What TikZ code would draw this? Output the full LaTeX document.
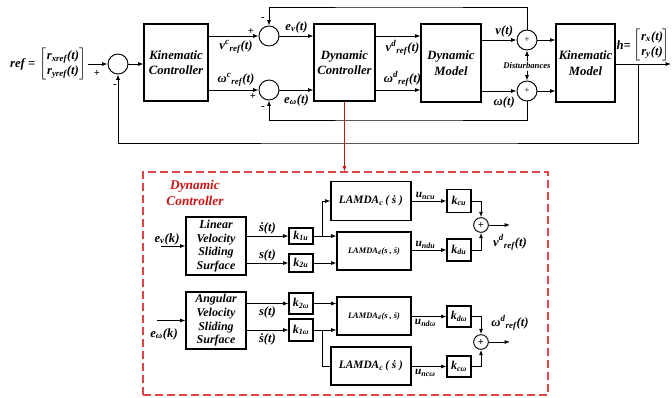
\documentclass[tikz,border=0pt]{standalone}
\usepackage{fontspec}
\setmainfont{Liberation Serif}
\usepackage{tikz}
\usetikzlibrary{arrows.meta, positioning}
\definecolor{dcred}{RGB}{204,20,20}
\definecolor{dashred}{RGB}{222,70,70}
\tikzset{
  blockbox/.style={
    rectangle, draw=black, line width=0.8pt,
    align=center, inner sep=1pt,
    font=\fontsize{9.5}{11.5}\selectfont\bfseries\itshape,
  },
  surfbox/.style={
    blockbox, minimum width=45pt, inner sep=0pt,
    font=\fontsize{9}{10.3}\selectfont\bfseries\itshape,
  },
  gainbox/.style={
    rectangle, draw=black, line width=0.8pt,
    minimum width=18pt, inner sep=1pt,
    font=\fontsize{9}{10}\selectfont\bfseries\itshape,
  },
  lamdac/.style={blockbox, minimum width=60pt, font=\fontsize{8.5}{10}\selectfont\bfseries\itshape},
  lamdad/.style={blockbox, minimum width=55.5pt, minimum height=28.5pt, font=\fontsize{6.3}{7}\selectfont\bfseries\itshape},
  sumnode/.style={circle, draw=black, line width=0.7pt, inner sep=0pt, minimum size=15pt},
  smallsum/.style={sumnode, minimum size=11pt, font=\fontsize{8}{8}\selectfont\bfseries},
  arrow/.style={-{Latex[length=4pt,width=3pt]}, line width=0.7pt},
  wire/.style={line width=0.7pt},
  lbl/.style={font=\fontsize{9.5}{11}\selectfont\bfseries\itshape, inner sep=1pt},
  ulbl/.style={lbl, font=\fontsize{8.5}{10}\selectfont\bfseries\itshape},
  sign/.style={font=\fontsize{8}{9}\selectfont\bfseries, inner sep=0pt},
  redarrow/.style={-{Latex[length=4pt,width=3pt]}, line width=0.7pt, draw=dcred},
  dashbox/.style={rectangle, draw=dashred, dash pattern=on 6pt off 3pt, line width=0.8pt},
}

\begin{document}
\begin{tikzpicture}[x=0.75pt, y=-0.75pt]
  \useasboundingbox (0,0) rectangle (672,397);

  % Outer loop: reference -> Kinematic Controller
  \node[lbl] (refvec) at (63,64) {$\left[\begin{tabular}{@{}c@{}}r\textsubscript{xref}(t)\\ r\textsubscript{yref}(t)\end{tabular}\right]$};
  \node[lbl, left=1pt of refvec] (reflbl) {ref =};
  \node[sumnode] (s1) at (118,64) {};
  \node[sign] (s1p) at (97,73) {+};
  \node[sign] (s1m) at (115,86) {-};
  \node[blockbox, minimum width=48pt, minimum height=57.75pt] (kc) at (176,62.5) {Kinematic\\Controller};

  % Velocity error sums
  \node[sumnode] (sv) at (269,36) {};
  \node[sumnode] (sw) at (269,90) {};
  \node[sign] (svp) at (251,31) {+};
  \node[sign] (svm) at (263,19) {-};
  \node[sign] (swp) at (253,96) {+};
  \node[sign] (swm) at (263,108) {-};

  % Dynamic Controller -> Dynamic Model -> Kinematic Model
  \node[blockbox, minimum width=45.75pt, minimum height=57.75pt] (dc) at (344.5,62.5) {Dynamic\\Controller};
  \node[blockbox, minimum width=45pt, minimum height=58.5pt] (dm) at (451,63) {Dynamic\\Model};
  \node[sumnode, font=\fontsize{7}{8}\selectfont] (dv) at (527,40) {+};
  \node[sumnode, font=\fontsize{7}{8}\selectfont] (dw) at (527,91) {+};
  \node[lbl, font=\fontsize{6.5}{7}\selectfont\bfseries\itshape] (dist) at (527,66) {Disturbances};
  \node[blockbox, minimum width=44.25pt, minimum height=58.5pt] (km) at (585.5,63) {Kinematic\\Model};
  \node[lbl] (hvec) at (652,45) {$\left[\begin{tabular}{@{}c@{}}r\textsubscript{x}(t)\\ r\textsubscript{y}(t)\end{tabular}\right]$};
  \node[lbl, left=0pt of hvec] (hlbl) {h=};

  \coordinate (hout) at (638,64);
  \coordinate (hend) at (671,64);
  \coordinate (fbtop) at (400,7);
  \coordinate (fbbot) at (400,120);
  \coordinate (fbout) at (400,143);

  % Top arrows
  \draw[arrow] (refvec.east) -- (s1.west);
  \draw[arrow] (s1.east) -- (kc.west |- s1);
  \draw[arrow] (kc.east |- sv) -- node[lbl, below=2pt, pos=0.55] {v\textsuperscript{c}\textsubscript{ref}(t)} (sv.west);
  \draw[arrow] (kc.east |- sw) -- node[lbl, above=1pt, pos=0.55] {ω\textsuperscript{c}\textsubscript{ref}(t)} (sw.west);
  \draw[arrow] (sv.east) -- node[lbl, above=1pt] {e\textsubscript{v}(t)} (dc.west |- sv);
  \draw[arrow] (sw.east) -- node[lbl, below=2pt] {e\textsubscript{ω}(t)} (dc.west |- sw);
  \draw[arrow] (dc.east |- sv) -- node[lbl, below=2pt, pos=0.6] {v\textsuperscript{d}\textsubscript{ref}(t)} (dm.west |- sv);
  \draw[arrow] (dc.east |- sw) -- node[lbl, above=1pt, pos=0.6] {ω\textsuperscript{d}\textsubscript{ref}(t)} (dm.west |- sw);
  \draw[arrow] (dm.east |- dv) -- node[lbl, above=1pt, pos=0.65] {v(t)} (dv.west);
  \draw[arrow] (dm.east |- dw) -- node[lbl, below=3pt, pos=0.65] {ω(t)} (dw.west);
  \draw[arrow] (dist.north) -- (dv.south);
  \draw[arrow] (dist.south) -- (dw.north);
  \draw[arrow] (dv.east) -- (km.west |- dv);
  \draw[arrow] (dw.east) -- (km.west |- dw);
  \draw[arrow] (km.east |- hout) -- (hend);

  % Feedback paths
  \draw[arrow] (dv.north) |- (fbtop) -| (sv.north);
  \draw[arrow] (dw.south) |- (fbbot) -| (sw.south);
  \draw[arrow] (hout) |- (fbout) -| (s1.south);

  % Dynamic Controller detail
  \node[dashbox, minimum width=303.75pt, minimum height=167.25pt] (dbox) at (345.5,283.5) {};
  \draw[redarrow] (dc.south) -- (dc.south |- dbox.north);
  \node[lbl, text=dcred, align=center, font=\fontsize{10}{12.5}\selectfont\bfseries\itshape] (dctitle) at (195,193) {Dynamic\\Controller};

  % Linear velocity branch
  \node[surfbox, minimum height=43.5pt] (lvs) at (216,246) {Linear\\Velocity\\Sliding\\Surface};
  \coordinate (evin) at (161,246);
  \node[lbl] (evlbl) at (167,239) {e\textsubscript{v}(k)};
  \node[gainbox, minimum height=12pt] (k1u) at (301,236) {k\textsubscript{1u}};
  \node[gainbox, minimum height=13.5pt] (k2u) at (301,263) {k\textsubscript{2u}};
  \coordinate (b1) at (322,236);
  \node[lamdac, minimum height=29.25pt] (lcu) at (371,201) {LAMDA\textsubscript{c}\,( ṡ )};
  \node[lamdad] (ldu) at (374,251) {LAMDA\textsubscript{d}(s , ṡ)};
  \node[gainbox, minimum height=17.25pt] (kcu) at (459,201) {k\textsubscript{cu}};
  \node[gainbox, minimum height=16.5pt] (kdu) at (459,250) {k\textsubscript{du}};
  \node[smallsum] (su) at (481,225) {+};
  \coordinate (vdout) at (510,225);

  \draw[arrow] (evin) -- (lvs.west);
  \draw[arrow] (lvs.east |- k1u) -- node[lbl, above] {ṡ(t)} (k1u.west);
  \draw[arrow] (lvs.east |- k2u) -- node[lbl, above] {s(t)} (k2u.west);
  \draw[arrow] (k1u.east) -- (ldu.west |- k1u);
  \draw[arrow] (k2u.east) -- (ldu.west |- k2u);
  \draw[arrow] (b1) |- (lcu.west);
  \draw[arrow] (lcu.east) -- node[ulbl, above, pos=0.4] {u\textsubscript{ncu}} (kcu.west);
  \draw[arrow] (ldu.east |- kdu) -- node[ulbl, above, pos=0.4] {u\textsubscript{ndu}} (kdu.west);
  \draw[arrow] (kcu.east) -| (su.north);
  \draw[arrow] (kdu.east) -| (su.south);
  \draw[arrow] (su.east) -- (vdout) node[lbl, below=6pt] {v\textsuperscript{d}\textsubscript{ref}(t)};

  % Angular velocity branch
  \node[surfbox, minimum height=42.75pt] (avs) at (216,320.5) {Angular\\Velocity\\Sliding\\Surface};
  \coordinate (ewin) at (157,320.5);
  \node[lbl] (ewlbl) at (164,334) {e\textsubscript{ω}(k)};
  \node[gainbox, minimum height=15.75pt] (k2w) at (301,303.5) {k\textsubscript{2ω}};
  \node[gainbox, minimum height=16.5pt] (k1w) at (301,330) {k\textsubscript{1ω}};
  \coordinate (b2) at (322,330);
  \node[lamdad] (ldw) at (374,316) {LAMDA\textsubscript{d}(s , ṡ)};
  \node[lamdac, minimum height=28.5pt] (lcw) at (371,366) {LAMDA\textsubscript{c}\,( ṡ )};
  \node[gainbox, minimum height=15.75pt] (kdw) at (459,316.5) {k\textsubscript{dω}};
  \node[gainbox, minimum height=15.75pt] (kcw) at (459,366.5) {k\textsubscript{cω}};
  \node[smallsum] (sw2) at (481,342) {+};
  \coordinate (wdout) at (510,342);

  \draw[arrow] (ewin) -- (avs.west);
  \draw[arrow] (avs.east |- k2w) -- node[lbl, below=1pt] {s(t)} (k2w.west);
  \draw[arrow] (avs.east |- k1w) -- node[lbl, below=1pt] {ṡ(t)} (k1w.west);
  \draw[arrow] (k2w.east) -- (ldw.west |- k2w);
  \draw[arrow] (k1w.east) -- (ldw.west |- k1w);
  \draw[wire] (b2) |- (lcw.west);
  \draw[arrow] (ldw.east |- kdw) -- node[ulbl, below=1pt, pos=0.4] {u\textsubscript{ndω}} (kdw.west);
  \draw[arrow] (lcw.east |- kcw) -- node[ulbl, below=1pt, pos=0.4] {u\textsubscript{ncω}} (kcw.west);
  \draw[arrow] (kdw.east) -| (sw2.north);
  \draw[arrow] (kcw.east) -| (sw2.south);
  \draw[arrow] (sw2.east) -- (wdout) node[lbl, above=7pt] {ω\textsuperscript{d}\textsubscript{ref}(t)};

\end{tikzpicture}
\end{document}
